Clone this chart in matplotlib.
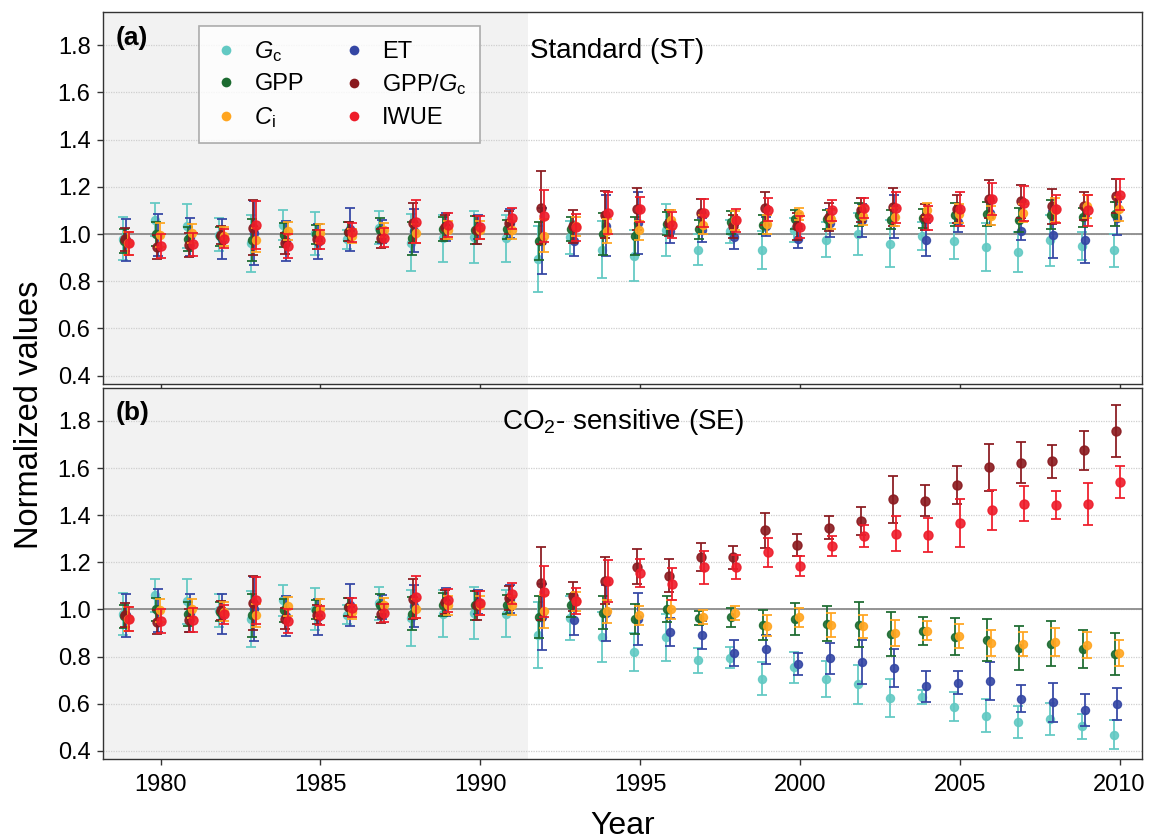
import numpy as np
import matplotlib
matplotlib.use("Agg")
import matplotlib.pyplot as plt
from matplotlib.lines import Line2D

plt.rcParams['font.family'] = ['Liberation Sans', 'DejaVu Sans']
plt.rcParams['mathtext.fontset'] = 'custom'
plt.rcParams['mathtext.rm'] = 'Liberation Sans'
plt.rcParams['mathtext.it'] = 'Liberation Sans:italic'
plt.rcParams['mathtext.bf'] = 'Liberation Sans:bold'

# ---------------- data ----------------
years_pre = list(range(1979, 1992))
years_post = list(range(1992, 2011))

# shared 1979-1991 (both scenarios)
pre_gc = [0.98, 1.06, 1.034, 0.996, 0.96, 1.038, 1.003, 0.977, 1.027, 0.963, 0.982, 0.986, 0.982]
pre_gc_err = [0.09, 0.07, 0.095, 0.07, 0.12, 0.065, 0.09, 0.04, 0.07, 0.12, 0.10, 0.11, 0.10]
pre_gpp = [0.97, 1.0, 0.98, 0.99, 0.975, 0.996, 0.999, 1.01, 1.017, 0.982, 1.02, 1.017, 1.02]
pre_gpp_err = [0.05, 0.05, 0.05, 0.04, 0.09, 0.05, 0.04, 0.04, 0.05, 0.07, 0.05, 0.06, 0.04]
pre_ci = [0.96, 0.996, 1.003, 0.99, 0.975, 1.013, 1.003, 0.99, 1.017, 1.003, 1.017, 1.017, 1.017]
pre_ci_err = [0.05, 0.05, 0.04, 0.04, 0.05, 0.04, 0.04, 0.03, 0.03, 0.04, 0.04, 0.04, 0.04]
pre_et = [0.975, 0.995, 0.986, 0.98, 1.003, 0.972, 0.968, 1.02, 1.01, 1.014, 1.031, 1.031, 1.045]
pre_et_err = [0.09, 0.09, 0.08, 0.085, 0.135, 0.085, 0.075, 0.09, 0.05, 0.09, 0.06, 0.05, 0.06]
pre_ratio = [0.977, 0.946, 0.953, 0.996, 1.027, 0.96, 0.977, 1.01, 0.982, 1.045, 1.031, 1.017, 1.048]
pre_ratio_err = [0.05, 0.05, 0.05, 0.04, 0.115, 0.045, 0.04, 0.04, 0.04, 0.085, 0.05, 0.06, 0.05]
pre_iwue = [0.96, 0.95, 0.956, 0.98, 1.038, 0.95, 0.975, 1.007, 0.985, 1.052, 1.038, 1.028, 1.066]
pre_iwue_err = [0.05, 0.05, 0.05, 0.04, 0.10, 0.05, 0.04, 0.04, 0.04, 0.09, 0.05, 0.05, 0.045]

# Standard (ST) 1992-2010
st_gc = [0.896, 0.986, 0.934, 0.909, 1.015, 0.934, 1.011, 0.934, 1.018, 0.976, 1.0, 0.959, 0.993, 0.972, 0.945, 0.923, 0.973, 0.948, 0.931]
st_gc_err = [0.14, 0.07, 0.12, 0.11, 0.11, 0.066, 0.05, 0.08, 0.05, 0.073, 0.09, 0.10, 0.06, 0.076, 0.10, 0.084, 0.107, 0.06, 0.07]
st_gpp = [0.972, 1.022, 1.0, 0.99, 1.044, 1.021, 1.049, 1.039, 1.063, 1.063, 1.082, 1.06, 1.067, 1.082, 1.086, 1.06, 1.082, 1.07, 1.086]
st_gpp_err = [0.08, 0.05, 0.09, 0.08, 0.05, 0.04, 0.05, 0.04, 0.04, 0.04, 0.05, 0.04, 0.04, 0.05, 0.05, 0.05, 0.06, 0.04, 0.05]
st_ci = [0.993, 1.032, 1.014, 1.015, 1.06, 1.039, 1.058, 1.042, 1.086, 1.063, 1.077, 1.072, 1.1, 1.086, 1.077, 1.089, 1.103, 1.117, 1.105]
st_ci_err = [0.07, 0.04, 0.05, 0.04, 0.04, 0.04, 0.04, 0.04, 0.025, 0.04, 0.04, 0.04, 0.03, 0.04, 0.04, 0.04, 0.05, 0.05, 0.05]
st_et = [0.97, 0.969, 1.035, 1.046, 1.011, 1.018, 0.987, 1.032, 0.98, 1.046, 1.058, 1.074, 0.976, 1.049, 1.09, 1.014, 0.997, 0.976, 1.067]
st_et_err = [0.14, 0.063, 0.13, 0.13, 0.05, 0.05, 0.05, 0.04, 0.04, 0.06, 0.07, 0.09, 0.07, 0.04, 0.05, 0.04, 0.1, 0.1, 0.07]
st_ratio = [1.112, 1.032, 1.082, 1.105, 1.046, 1.089, 1.032, 1.11, 1.032, 1.072, 1.103, 1.114, 1.072, 1.105, 1.148, 1.138, 1.117, 1.119, 1.162]
st_ratio_err = [0.153, 0.07, 0.1, 0.09, 0.056, 0.059, 0.05, 0.07, 0.056, 0.06, 0.05, 0.08, 0.056, 0.06, 0.08, 0.07, 0.075, 0.058, 0.072]
st_iwue = [1.077, 1.028, 1.089, 1.105, 1.039, 1.089, 1.058, 1.103, 1.03, 1.1, 1.11, 1.112, 1.067, 1.107, 1.148, 1.131, 1.107, 1.1, 1.166]
st_iwue_err = [0.11, 0.056, 0.09, 0.053, 0.056, 0.06, 0.05, 0.049, 0.045, 0.045, 0.042, 0.067, 0.052, 0.072, 0.067, 0.074, 0.059, 0.066, 0.066]

# CO2-sensitive (SE) 1992-2010
se_gc = [0.893, 0.963, 0.882, 0.819, 0.882, 0.784, 0.795, 0.706, 0.754, 0.703, 0.682, 0.623, 0.630, 0.587, 0.549, 0.521, 0.535, 0.504, 0.469]
se_gc_err = [0.14, 0.093, 0.105, 0.08, 0.1, 0.053, 0.044, 0.07, 0.066, 0.076, 0.084, 0.08, 0.03, 0.062, 0.07, 0.068, 0.068, 0.053, 0.062]
se_gpp = [0.969, 1.017, 0.985, 0.959, 1.0, 0.963, 0.966, 0.933, 0.959, 0.94, 0.935, 0.896, 0.907, 0.885, 0.871, 0.837, 0.854, 0.831, 0.812]
se_gpp_err = [0.09, 0.048, 0.07, 0.063, 0.055, 0.03, 0.04, 0.063, 0.067, 0.073, 0.095, 0.093, 0.06, 0.079, 0.089, 0.094, 0.096, 0.08, 0.09]
se_ci = [0.992, 1.034, 0.992, 0.975, 1.0, 0.968, 0.983, 0.931, 0.966, 0.935, 0.928, 0.899, 0.91, 0.886, 0.857, 0.854, 0.862, 0.848, 0.816]
se_ci_err = [0.07, 0.04, 0.05, 0.04, 0.04, 0.03, 0.03, 0.045, 0.04, 0.05, 0.05, 0.055, 0.04, 0.05, 0.055, 0.05, 0.06, 0.055, 0.055]
se_et = [0.969, 0.955, 0.985, 0.959, 0.904, 0.892, 0.816, 0.83, 0.768, 0.793, 0.776, 0.751, 0.673, 0.689, 0.695, 0.621, 0.606, 0.573, 0.598]
se_et_err = [0.14, 0.063, 0.12, 0.11, 0.06, 0.06, 0.056, 0.063, 0.048, 0.066, 0.093, 0.08, 0.066, 0.048, 0.08, 0.057, 0.083, 0.068, 0.068]
se_ratio = [1.111, 1.055, 1.121, 1.181, 1.142, 1.223, 1.221, 1.336, 1.274, 1.347, 1.375, 1.467, 1.462, 1.527, 1.603, 1.623, 1.630, 1.675, 1.756]
se_ratio_err = [0.155, 0.06, 0.1, 0.075, 0.07, 0.06, 0.05, 0.075, 0.046, 0.05, 0.06, 0.1, 0.066, 0.08, 0.1, 0.086, 0.07, 0.083, 0.11]
se_iwue = [1.076, 1.037, 1.121, 1.156, 1.108, 1.178, 1.18, 1.242, 1.184, 1.27, 1.311, 1.322, 1.316, 1.367, 1.423, 1.448, 1.444, 1.448, 1.541]
se_iwue_err = [0.11, 0.056, 0.09, 0.06, 0.066, 0.07, 0.05, 0.06, 0.044, 0.042, 0.046, 0.073, 0.072, 0.1, 0.086, 0.074, 0.06, 0.09, 0.066]

series_labels = [r'$G_{\mathrm{c}}$', 'GPP', r'$C_{\mathrm{i}}$', 'ET', r'GPP/$G_{\mathrm{c}}$', 'IWUE']
x_ticks = [1980, 1985, 1990, 1995, 2000, 2005, 2010]
y_ticks = [0.4, 0.6, 0.8, 1.0, 1.2, 1.4, 1.6, 1.8]
reference_period_end = 1991.5

# ---------------- styles ----------------
colors = ['#62C9C3', '#1C6B30', '#FFA51F', '#3446A4', '#8A1A1F', '#EE1C2A']
offsets = [-0.18, -0.15, -0.02, -0.07, -0.10, 0.0]
draw_order = [0, 3, 1, 4, 2, 5]

years = np.array(years_pre + years_post, dtype=float)
ST = [(pre_gc + st_gc, pre_gc_err + st_gc_err),
      (pre_gpp + st_gpp, pre_gpp_err + st_gpp_err),
      (pre_ci + st_ci, pre_ci_err + st_ci_err),
      (pre_et + st_et, pre_et_err + st_et_err),
      (pre_ratio + st_ratio, pre_ratio_err + st_ratio_err),
      (pre_iwue + st_iwue, pre_iwue_err + st_iwue_err)]
SE = [(pre_gc + se_gc, pre_gc_err + se_gc_err),
      (pre_gpp + se_gpp, pre_gpp_err + se_gpp_err),
      (pre_ci + se_ci, pre_ci_err + se_ci_err),
      (pre_et + se_et, pre_et_err + se_et_err),
      (pre_ratio + se_ratio, pre_ratio_err + se_ratio_err),
      (pre_iwue + se_iwue, pre_iwue_err + se_iwue_err)]

W, H = 1153, 839
fig = plt.figure(figsize=(W / 100, H / 100), dpi=100)
left, right = 103, 1142
ax_a = fig.add_axes([left / W, 1 - 384 / H, (right - left) / W, 372 / H])
ax_b = fig.add_axes([left / W, 1 - 759 / H, (right - left) / W, 371 / H])

xlim = (1978.2, 2010.7)
ylim = (0.365, 1.94)

for ax, data in ((ax_a, ST), (ax_b, SE)):
    ax.set_xlim(*xlim)
    ax.set_ylim(*ylim)
    ax.axvspan(xlim[0], reference_period_end, color='#F2F2F2', zorder=0, lw=0)
    for yt in y_ticks:
        ax.axhline(yt, color='#CFCFCF', lw=0.9, ls=(0, (1, 1)), zorder=0.5)
    ax.axhline(1.0, color='#8C8C8C', lw=1.3, zorder=0.8)
    for i in draw_order:
        vals, errs = data[i]
        ms = 6.5 if i >= 4 else 5.8
        ax.errorbar(years + offsets[i], vals, yerr=errs, fmt='o', color=colors[i],
                    ms=ms, elinewidth=1.4, capsize=3.3, capthick=1.4,
                    alpha=0.9, zorder=2 + draw_order.index(i))
    ax.set_xticks(x_ticks)
    ax.set_yticks(y_ticks)
    ax.tick_params(axis='both', direction='out', length=4, width=1, color='#333333',
                   labelsize=17, pad=5)
    for s in ax.spines.values():
        s.set_color('#333333')
        s.set_linewidth(1.0)

ax_a.tick_params(axis='x', labelbottom=False)
ax_b.tick_params(axis='x', pad=7)

ax_a.text(0.012, 0.962, '(a)', transform=ax_a.transAxes, fontsize=19,
          fontweight='bold', va='top', ha='left')
ax_a.text(0.411, 0.93, 'Standard (ST)', transform=ax_a.transAxes, fontsize=20,
          va='top', ha='left')
ax_b.text(0.012, 0.965, '(b)', transform=ax_b.transAxes, fontsize=19,
          fontweight='bold', va='top', ha='left')
ax_b.text(0.5, 0.95, r'CO$_2$- sensitive (SE)', transform=ax_b.transAxes,
          fontsize=20, va='top', ha='center')

handles = [Line2D([], [], marker='o', ls='none', color=colors[i], ms=7, mew=0)
           for i in range(6)]
leg = ax_a.legend(handles, series_labels, ncol=2, loc='upper left',
                  bbox_to_anchor=(0.0924, 0.962), borderaxespad=0, fontsize=17,
                  frameon=True, fancybox=False, edgecolor='#999999',
                  handlelength=1.2, handletextpad=0.6, columnspacing=1.5,
                  labelspacing=0.40, borderpad=0.55)
leg.get_frame().set_linewidth(1.2)

fig.text(0.026, 0.505, 'Normalized values', rotation=90, fontsize=23.5,
         va='center', ha='center')
fig.text(0.54, 0.006, 'Year', fontsize=23, va='baseline', ha='center')

fig.savefig('out.png', dpi=100)
